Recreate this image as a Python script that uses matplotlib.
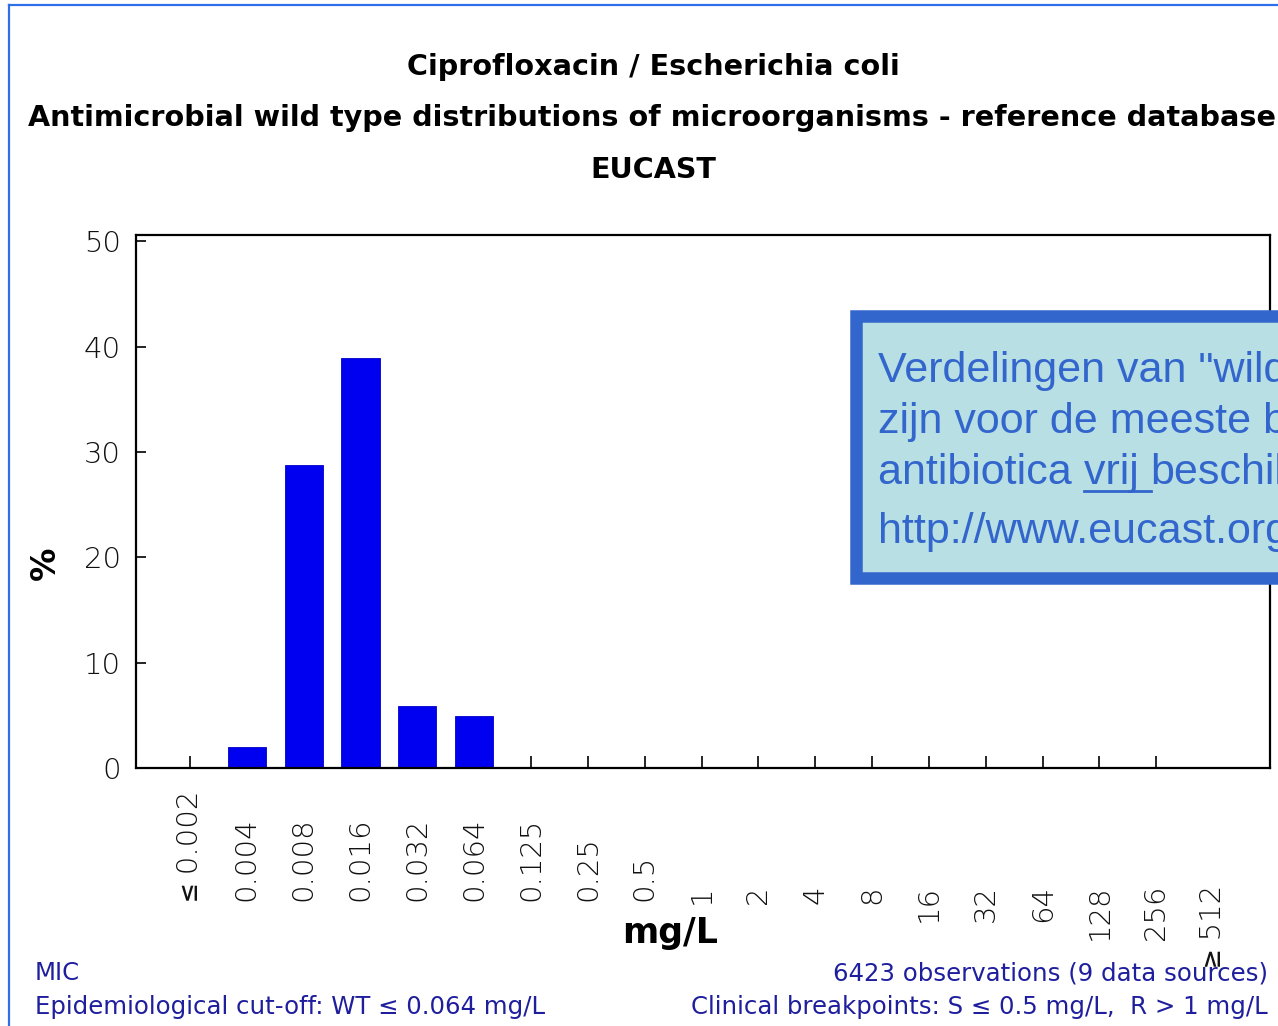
import matplotlib
matplotlib.use("Agg")
import matplotlib.pyplot as plt
from matplotlib.patches import Rectangle
from matplotlib.transforms import blended_transform_factory

# MIC distribution, ciprofloxacin vs E. coli (% of isolates per dilution)
mic_labels = ["≤ 0.002", "0.004", "0.008", "0.016", "0.032", "0.064", "0.125",
              "0.25", "0.5", "1", "2", "4", "8", "16", "32", "64", "128",
              "256", "≥ 512"]
percent = [0.0, 2.0, 28.8, 38.9, 5.9, 4.9, 0, 0, 0, 0, 0, 0, 0, 0, 0, 0, 0, 0, 0]
y_ticks = [0, 10, 20, 30, 40, 50]

W, H = 1278, 1026
fig = plt.figure(figsize=(W / 100, H / 100), dpi=100)
fig.patch.set_facecolor("white")

def fx(px):
    return px / W

def fy(py):
    return 1 - py / H

thin = ["DejaVu Sans", "DejaVu Sans Mono"]

# thin blue frame round the whole picture
fig.add_artist(plt.Line2D([fx(9), fx(9)], [fy(5), 0], color="#2f6fe8", lw=1.6))
fig.add_artist(plt.Line2D([fx(9), 1], [fy(5), fy(5)], color="#2f6fe8", lw=1.6))

ax = fig.add_axes([fx(136), fy(768), fx(1270) - fx(136), fy(235) - fy(768)])
x = list(range(len(mic_labels)))
ax.bar(x, percent, width=0.67, color="#0000f0", edgecolor="#0000c8", lw=0.6, zorder=2)

ax.set_xlim(-0.95, 19.0)
ax.set_ylim(0, 50.6)
ax.set_yticks(y_ticks)
ax.set_yticklabels([str(v) for v in y_ticks], fontsize=21, color="#111",
                   family=thin, fontweight="light")
ax.set_xticks(x[:-1])
ax.set_xticklabels([])
ax.tick_params(axis="y", direction="in", length=7, width=1.2, pad=11)
ax.tick_params(axis="x", direction="in", length=9, width=1.2)
for s in ax.spines.values():
    s.set_linewidth(1.6)
    s.set_zorder(3)

# rotated dilution labels: decimals sit on a common base, integers hang from a common top
tr = blended_transform_factory(ax.transData, fig.transFigure)
for xi, lab in zip(x, mic_labels):
    is_int = "." not in lab
    ax.text(xi, fy(885) if is_int else fy(901), lab, rotation=90, transform=tr,
            ha="center", va="top" if is_int else "bottom", fontsize=21,
            color="#111", family=thin, fontweight="light", clip_on=False)

fig.text(fx(45), fy(563), "%", rotation=90, ha="center", va="center", fontsize=24,
         fontweight="bold", family="DejaVu Sans")
fig.text(fx(670), fy(933), "mg/L", ha="center", va="center", fontsize=25,
         fontweight="bold", family="DejaVu Sans")

# titles
title_kw = dict(ha="center", va="center", fontweight="bold", family="DejaVu Sans",
                fontsize=20.6)
fig.text(fx(653), fy(67), "Ciprofloxacin / Escherichia coli", **title_kw)
fig.text(fx(652), fy(118), "Antimicrobial wild type distributions of microorganisms - reference database",
         **title_kw)
fig.text(fx(653), fy(170), "EUCAST", **title_kw)

# footer notes
foot_kw = dict(fontsize=17.6, color="#1f1f9e", family="DejaVu Sans", va="center")
fig.text(fx(35), fy(973), "MIC", ha="left", **foot_kw)
fig.text(fx(35), fy(1007), "Epidemiological cut-off: WT ≤ 0.064 mg/L", ha="left", **foot_kw)
fig.text(fx(1268), fy(973), "6423 observations (9 data sources)", ha="right", **foot_kw)
fig.text(fx(1268), fy(1007), "Clinical breakpoints: S ≤ 0.5 mg/L,  R > 1 mg/L", ha="right", **foot_kw)

# info box on top of the chart
fig.add_artist(Rectangle((fx(856), fy(578)), fx(1300) - fx(856), fy(316) - fy(578),
                         transform=fig.transFigure, facecolor="#b8dfe3",
                         edgecolor="#3366cc", lw=9, zorder=5))
box_kw = dict(color="#3366cc", family=["Liberation Sans", "DejaVu Sans"], ha="left",
              va="baseline", zorder=6, fontsize=31)
fig.text(fx(878), fy(382), 'Verdelingen van "wild type"', **box_kw)
fig.text(fx(878), fy(433), "zijn voor de meeste bacteriën", **box_kw)
t1 = fig.text(fx(878), fy(484), "antibiotica ", **box_kw)
fig.canvas.draw()
r = fig.canvas.get_renderer()
x1 = t1.get_window_extent(r).x1
t2 = fig.text(x1 / W, fy(484), "vrij ", **box_kw)
e2 = t2.get_window_extent(r)
fig.add_artist(plt.Line2D([e2.x0 / W, e2.x1 / W], [fy(491), fy(491)], color="#3366cc",
                          lw=2, zorder=6))
fig.text(e2.x1 / W, fy(484), "beschikbaar", **box_kw)
fig.text(fx(878), fy(543), "http://www.eucast.org", **box_kw)

fig.savefig("out.png", dpi=100)
